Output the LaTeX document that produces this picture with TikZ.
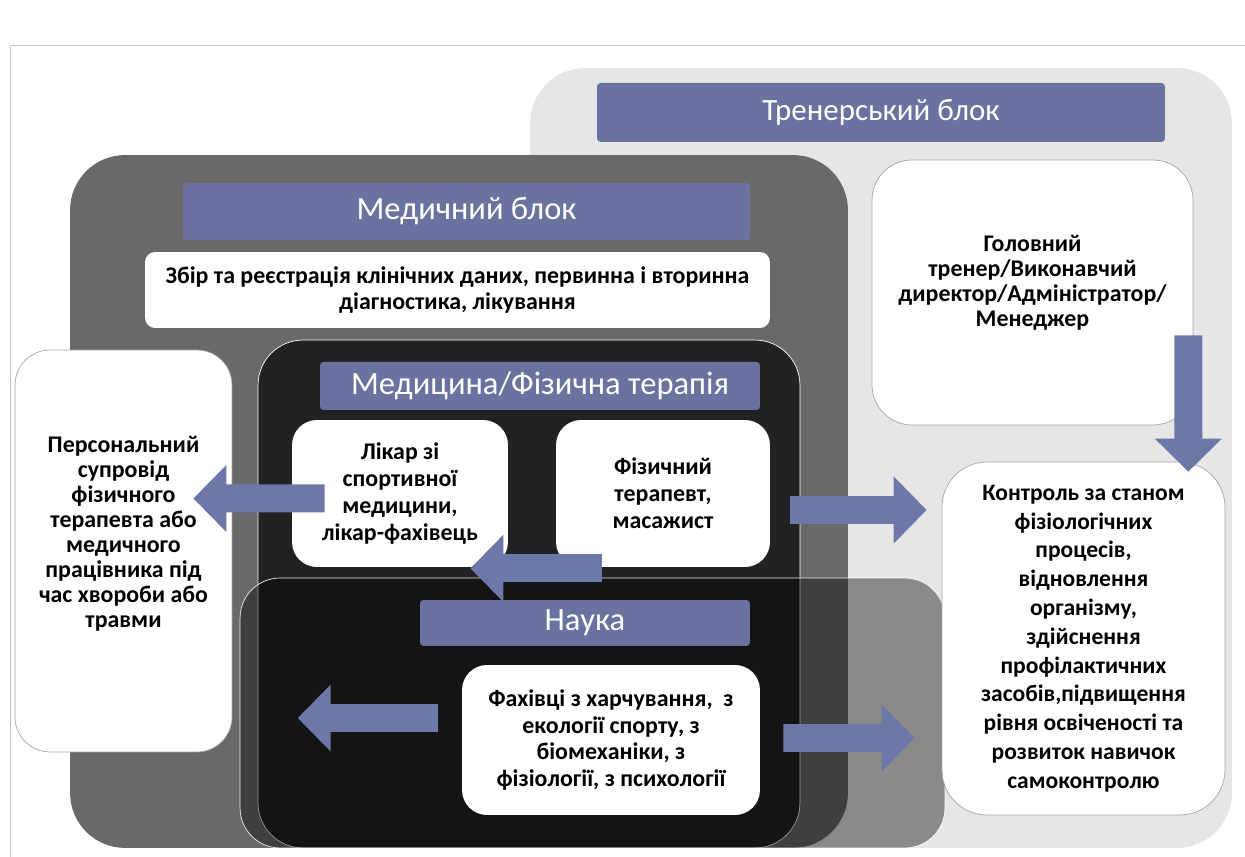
\documentclass[tikz,border=0pt]{standalone}
\usepackage{fontspec}
\setmainfont{Carlito}
\usepackage{xcolor}
\definecolor{barblue}{HTML}{6A73A0}
\definecolor{arrowblue}{HTML}{6D77A8}
\definecolor{medgray}{HTML}{696969}
\definecolor{coachgray}{HTML}{E6E6E6}
\definecolor{nearblack}{HTML}{222222}
\usepackage{tikz}
\usetikzlibrary{arrows.meta,calc}

\begin{document}
\begin{tikzpicture}[
  x=0.02cm, y=-0.02cm,
  panel/.style={rounded corners=1.1cm,inner sep=0pt},
  titlebar/.style={fill=barblue,rounded corners=2pt,inner sep=0pt,text=white,font=\fontsize{18.5}{22}\selectfont},
  card/.style={fill=white,rounded corners=0.5cm,inner sep=0pt,align=center,font=\bfseries\fontsize{13.6}{15.3}\selectfont},
  fatarr/.style={-{Triangle[width=1.3cm,length=0.66cm]},line width=0.56cm,arrowblue}]
\useasboundingbox (0,0) rectangle (1245,857);
\draw[gray!45] (10,857) -- (10,45) -- (1245,45);
% blocks
\node[panel,fill=coachgray,minimum width=14.04cm,minimum height=15.6cm] (trainer) at (881,458) {};
\node[panel,fill=medgray,minimum width=15.56cm,minimum height=13.86cm] (medical) at (459,501.5) {};
\node[panel,fill=nearblack,draw=white,rounded corners=0.9cm,minimum width=10.84cm,minimum height=10.16cm] (medicina) at (529,594) {};
\node[panel,fill=black,fill opacity=0.4,draw=white,draw opacity=0.9,rounded corners=0.8cm,minimum width=14.1cm,minimum height=5.4cm] (nauka) at (592.5,713) {};
% titles
\node[titlebar,minimum width=11.36cm,minimum height=1.18cm,font=\fontsize{17.6}{21}\selectfont] (coachtitle) at (881,112.5) {Тренерський блок};
\node[titlebar,minimum width=11.34cm,minimum height=1.14cm] (medtitle) at (466.5,211.5) {Медичний блок};
\node[titlebar,minimum width=8.8cm,minimum height=0.96cm] (medicinatitle) at (540,386) {Медицина/Фізична терапія};
\node[titlebar,minimum width=6.6cm,minimum height=0.92cm] (naukatitle) at (585,623) {Наука};
% cards
\node[card,rounded corners=0.2cm,minimum width=12.5cm,minimum height=1.52cm,font=\bfseries\fontsize{13.6}{14.8}\selectfont] (zbir) at (457.5,290)
  {Збір та реєстрація клінічних даних, первинна і вторинна\\діагностика, лікування};
\node[card,draw=gray!70,rounded corners=0.7cm,minimum width=4.34cm,minimum height=8.04cm,font=\bfseries\fontsize{13.6}{14.2}\selectfont] (persona) at (123.5,551)
  {Персональний\\супровід\\фізичного\\терапевта або\\медичного\\працівника під\\час хвороби або\\травми\\[7.4pt]\mbox{}};
\node[card,minimum width=4.32cm,minimum height=2.94cm] (likar) at (400,493.5)
  {Лікар зі\\спортивної\\медицини,\\лікар-фахівець};
\node[card,minimum width=4.28cm,minimum height=2.94cm] (fizter) at (663,493.5)
  {Фізичний\\терапевт,\\масажист};
\node[card,draw=gray!70,rounded corners=0.8cm,minimum width=6.42cm,minimum height=5.3cm,font=\bfseries\fontsize{13.6}{14.2}\selectfont] (golovnyi) at (1032.5,292.5)
  {Головний\\тренер/Виконавчий\\директор/Адміністратор/\\Менеджер\\[-0.6pt]\mbox{}};
\node[card,draw=gray!70,rounded corners=0.9cm,minimum width=5.66cm,minimum height=7.06cm,font=\bfseries\fontsize{13.4}{16.4}\selectfont] (kontrol) at (1083.5,638.5)
  {Контроль за станом\\фізіологічних\\процесів,\\відновлення\\організму,\\здійснення\\профілактичних\\засобів,підвищення\\рівня освіченості та\\розвиток навичок\\самоконтролю};
\node[card,minimum width=5.96cm,minimum height=3.0cm] (fakhivtsi) at (611,740)
  {Фахівці з харчування,~ з\\екології спорту, з\\біомеханіки, з\\фізіології, з психології};
% arrows
\draw[fatarr] ($(likar.west)+(33,5)$) -- ($(persona.east)+(-39,-52.5)$);
\draw[fatarr] ($(fizter.south west)+(46,1)$) -- ($(likar.south east)+(-38,1)$);
\draw[fatarr] ($(medicina.east)+(-10,-84)$) -- ($(kontrol.west)+(-15,-128.5)$);
\draw[fatarr] ($(fakhivtsi.west)+(-24,-22)$) -- ($(nauka.west)+(58,5)$);
\draw[fatarr] ($(fakhivtsi.east)+(23,-2)$) -- ($(kontrol.west)+(-27,99.5)$);
\draw[fatarr] ($(golovnyi.south east)+(-5,-90)$) -- ($(kontrol.north east)+(-37,10)$);
\end{tikzpicture}
\end{document}
